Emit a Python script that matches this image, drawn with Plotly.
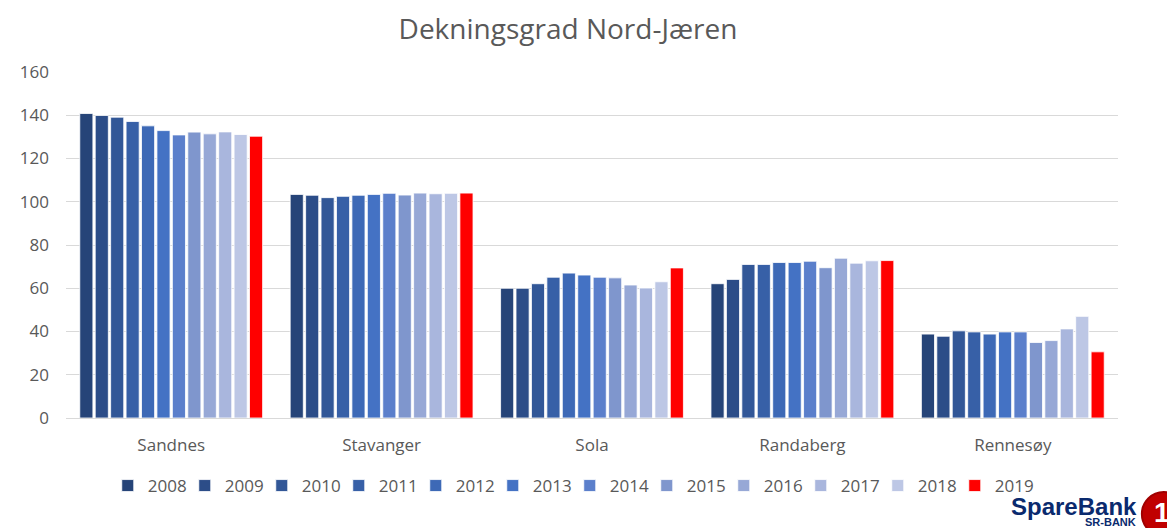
import plotly.graph_objects as go

categories = ["Sandnes", "Stavanger", "Sola", "Randaberg", "Rennesøy"]
years = ["2008", "2009", "2010", "2011", "2012", "2013", "2014", "2015", "2016", "2017", "2018", "2019"]

v2008 = [140.8, 103.4, 60.0, 62.1, 38.8]
v2009 = [139.9, 103.0, 60.0, 64.1, 37.8]
v2010 = [139.1, 101.9, 62.1, 71.0, 40.3]
v2011 = [137.1, 102.5, 65.1, 71.0, 39.8]
v2012 = [135.1, 103.0, 67.0, 71.9, 38.8]
v2013 = [132.9, 103.4, 66.1, 71.9, 39.8]
v2014 = [130.9, 103.9, 65.1, 72.5, 39.8]
v2015 = [132.2, 103.1, 64.8, 69.5, 34.9]
v2016 = [131.4, 104.0, 61.5, 73.9, 35.8]
v2017 = [132.3, 103.7, 60.1, 71.6, 41.2]
v2018 = [131.1, 103.9, 63.0, 72.7, 47.0]
v2019 = [130.3, 104.0, 69.4, 72.8, 30.6]

series = [v2008, v2009, v2010, v2011, v2012, v2013, v2014, v2015, v2016, v2017, v2018, v2019]
colors = ["#264478", "#2C4D88", "#325797", "#3760A7", "#3D69B6", "#4472C4",
          "#5B7FCB", "#7F96CD", "#97A8D6", "#A9B6DD", "#BDC7E5", "#FF0000"]

fig = go.Figure()
for yr, vals, c in zip(years, series, colors):
    fig.add_trace(go.Bar(
        x=categories, y=vals, name=yr,
        marker=dict(color=c, line=dict(color="rgba(255,255,255,0.8)", width=1)),
    ))
# invisible spacer entry so the last legend label is not clipped
fig.add_trace(go.Scatter(x=[None], y=[None], mode="markers", name=" ",
                         marker=dict(color="rgba(0,0,0,0)"), hoverinfo="skip"))

font_family = "Open Sans, Liberation Sans, sans-serif"
logo_font = "Liberation Sans, Arial, sans-serif"

# page is offset by 8px (body margin); plot area target: x 60..1118, y 72..418
W, H, OFF = 1167, 520, 8
PW, PH = 1058.0, 346.0
def px(x):
    return (x - 60) / PW
def py(y):
    return (418 - y) / PH

fig.update_layout(
    width=W, height=H,
    barmode="group", bargap=0.12, bargroupgap=0.15,
    paper_bgcolor="white", plot_bgcolor="white",
    margin=dict(l=52, r=57, t=64, b=110, pad=0),
    title=dict(text="Dekningsgrad Nord-Jæren",
               x=(568 - OFF) / W, xref="container", xanchor="center",
               y=1 - (29 - OFF) / H, yref="container", yanchor="middle",
               font=dict(family=font_family, size=28, color="#595959")),
    font=dict(family=font_family, color="#595959"),
    xaxis=dict(showgrid=False, showline=True, linecolor="#D9D9D9", linewidth=1,
               tickfont=dict(size=17, color="#595959"), ticks="",
               ticklabelstandoff=12),
    yaxis=dict(range=[0, 160], dtick=20, showgrid=True, gridcolor="#D9D9D9",
               gridwidth=1, zeroline=False, ticks="",
               tickfont=dict(size=17, color="#595959"), ticklabelstandoff=16),
    legend=dict(orientation="h", x=px(127 - 25), xanchor="left", y=py(468), yanchor="top",
                font=dict(size=17, color="#595959"), traceorder="normal",
                bgcolor="rgba(0,0,0,0)",
                itemwidth=30, entrywidth=32, entrywidthmode="pixels"),
    showlegend=True,
)

# SpareBank logo (text + red circle)
fig.add_shape(type="circle", xref="paper", yref="paper",
              x0=px(1142), x1=px(1186), y0=py(536), y1=py(492),
              fillcolor="#C00000", line=dict(color="#A00000", width=2))
fig.add_annotation(xref="paper", yref="paper", x=px(1162), y=py(512), xanchor="center",
                   yanchor="middle", showarrow=False, text="<b>1</b>",
                   font=dict(family=logo_font, size=28, color="white"))
fig.add_annotation(xref="paper", yref="paper", x=px(1139), y=py(506), xanchor="right",
                   yanchor="middle", showarrow=False,
                   text="<b>SpareBank</b>",
                   font=dict(family=logo_font, size=24, color="#0A2A6E"))
fig.add_annotation(xref="paper", yref="paper", x=px(1138), y=py(522), xanchor="right",
                   yanchor="middle", showarrow=False,
                   text="<b>SR-BANK</b>",
                   font=dict(family=logo_font, size=11, color="#0A2A6E"))

fig.write_html("out.html")
